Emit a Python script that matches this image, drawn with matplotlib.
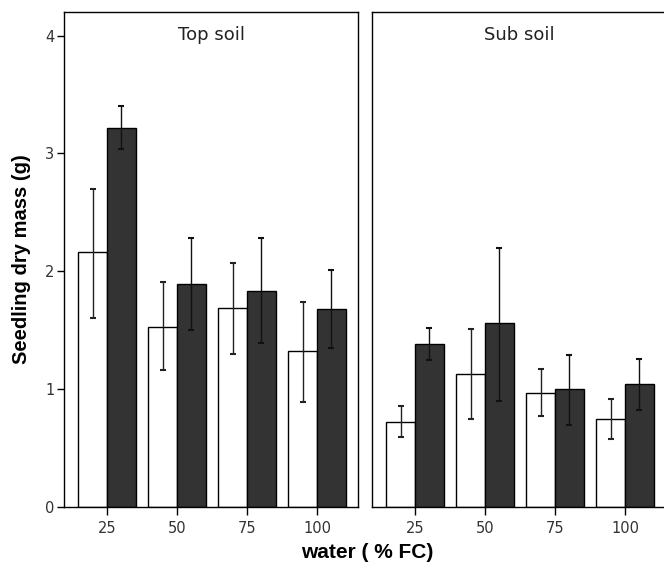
import numpy as np
import matplotlib.pyplot as plt

plt.rcParams['font.family'] = ['Liberation Sans', 'DejaVu Sans']

water = ['25', '50', '75', '100']
panels = ['Top soil', 'Sub soil']

# means, lower and upper ends of error bars (white = series A, dark = series B)
top_white = [2.16, 1.53, 1.69, 1.32]
top_white_lo = [1.60, 1.16, 1.30, 0.89]
top_white_hi = [2.70, 1.91, 2.07, 1.74]
top_dark = [3.22, 1.89, 1.83, 1.68]
top_dark_lo = [3.04, 1.50, 1.39, 1.35]
top_dark_hi = [3.40, 2.28, 2.28, 2.01]

sub_white = [0.72, 1.13, 0.97, 0.75]
sub_white_lo = [0.59, 0.75, 0.77, 0.58]
sub_white_hi = [0.855, 1.51, 1.17, 0.915]
sub_dark = [1.38, 1.56, 1.00, 1.04]
sub_dark_lo = [1.25, 0.90, 0.70, 0.82]
sub_dark_hi = [1.52, 2.20, 1.29, 1.26]

data = [
    (top_white, top_white_lo, top_white_hi, top_dark, top_dark_lo, top_dark_hi),
    (sub_white, sub_white_lo, sub_white_hi, sub_dark, sub_dark_lo, sub_dark_hi),
]

W, H = 664, 570
fig = plt.figure(figsize=(W / 100, H / 100), dpi=100)
lefts = [64, 372]
pw = 294
bottom, top = 507, 12

x = np.arange(len(water))
bw = 0.41
for i, (name, d) in enumerate(zip(panels, data)):
    ax = fig.add_axes([lefts[i] / W, (H - bottom) / H, pw / W, (bottom - top) / H])
    wm, wlo, whi, dm, dlo, dhi = [np.array(a) for a in d]
    ax.bar(x - bw / 2, wm, bw, color='white', edgecolor='black', linewidth=1.0)
    ax.bar(x + bw / 2, dm, bw, color='#333333', edgecolor='black', linewidth=1.0)
    ax.errorbar(x - bw / 2, wm, yerr=[wm - wlo, whi - wm], fmt='none',
                ecolor='#222222', elinewidth=1.0, capsize=2, capthick=1.5)
    ax.errorbar(x + bw / 2, dm, yerr=[dm - dlo, dhi - dm], fmt='none',
                ecolor='#111111', elinewidth=1.0, capsize=2, capthick=1.5)
    ax.set_xlim(-0.614, 3.586)
    ax.set_ylim(0, 4.2)
    ax.set_xticks(x)
    ax.set_xticklabels(water, family='DejaVu Sans')
    ax.tick_params(axis='x', length=6, width=1, colors='black', labelcolor='#333333',
                   labelsize=10.5, pad=4)
    for s in ax.spines.values():
        s.set_linewidth(1.0)
    if i == 0:
        ax.set_yticks([0, 1, 2, 3, 4])
        ax.set_yticklabels(['0', '1', '2', '3', '4'], family='DejaVu Sans')
        ax.tick_params(axis='y', length=5, width=1, labelcolor='#333333', labelsize=10.5, pad=2)
        ax.set_ylabel('Seedling dry mass (g)', fontsize=14.5, fontweight='bold', labelpad=10)
    else:
        ax.set_yticks([])
    ax.text(0.5, 0.953, name, transform=ax.transAxes, ha='center', va='center',
            fontsize=13, color='#222222', family='DejaVu Sans')

fig.text(367 / W, 1 - 553 / H, 'water ( % FC)', ha='center', va='center',
         fontsize=15, fontweight='bold')

fig.savefig('out.png', dpi=100)
